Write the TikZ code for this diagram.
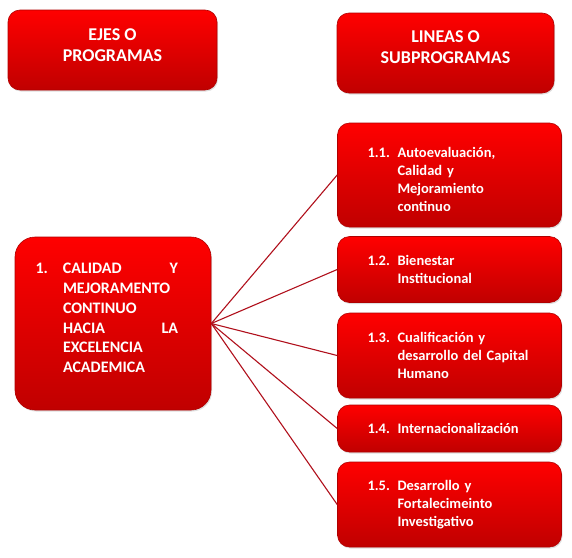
\documentclass[tikz,border=0pt]{standalone}
\usepackage{fontspec}
\setmainfont{Carlito}
\usetikzlibrary{shadows}
\definecolor{topred}{HTML}{FF0000}
\definecolor{botred}{HTML}{C00000}
\definecolor{edgered}{HTML}{B00000}
\definecolor{linered}{HTML}{B0101C}
\tikzset{
  redbox/.style={draw=edgered, line width=0.6pt, top color=topred, bottom color=botred,
    rounded corners=12pt, text=white, font=\bfseries,
    drop shadow={opacity=0.25, shadow xshift=1pt, shadow yshift=-1.5pt}},
  headbox/.style={redbox, font=\fontsize{18}{21}\selectfont\bfseries, align=center},
  subbox/.style={redbox, minimum width=224pt, text width=164pt, inner xsep=30pt,
    align=left, font=\fontsize{14.5}{18}\selectfont\bfseries},
  conn/.style={draw=linered, line width=1.1pt}
}
\newcommand{\lbl}[2]{\makebox[30pt][l]{#1}\parbox[t]{134pt}{\raggedright #2}}
\newcommand{\shiftv}[2]{\raisebox{#1}[\height][\depth]{#2}}
\begin{document}
\begin{tikzpicture}[x=1pt,y=-1pt]
\useasboundingbox (0,0) rectangle (572,557);
% headers
\node[headbox, minimum width=209pt, minimum height=80pt] (h1) at (112.5,50)
  {\shiftv{3pt}{\begin{tabular}{@{}c@{}}EJES O\\PROGRAMAS\end{tabular}}};
\node[headbox, minimum width=217pt, minimum height=80pt] (h2) at (445.5,53)
  {\shiftv{4pt}{\begin{tabular}{@{}c@{}}LINEAS O\\SUBPROGRAMAS\end{tabular}}};
% main box
\node[redbox, rounded corners=20pt, minimum width=196pt, minimum height=173pt,
  text width=155pt, inner xsep=0pt, align=left,
  font=\fontsize{16}{19.8}\selectfont\bfseries] (m) at (113,323.5)
  {\shiftv{5.5pt}{\makebox[27.5pt][l]{1.}\parbox[t]{115pt}{%
    \hbox to 115pt{CALIDAD\hfill Y}\par
    \hbox{MEJORAMENTO}\par
    \hbox{CONTINUO}\par
    \hbox to 115pt{HACIA\hfill LA}\par
    \hbox{EXCELENCIA}\par
    \hbox{ACADEMICA}}}};
% sub boxes
\node[subbox, minimum height=104pt] (s1) at (449.5,175)
  {\shiftv{-4pt}{\lbl{1.1.}{Autoevaluación,\\Calidad y\\Mejoramiento\\continuo}}};
\node[subbox, minimum height=66pt] (s2) at (449.5,269.5)
  {\lbl{1.2.}{Bienestar\\Institucional}};
\node[subbox, minimum height=85pt] (s3) at (449.5,355.5)
  {\lbl{1.3.}{Cualificación y\\desarrollo del Capital\\Humano}};
\node[subbox, minimum height=47pt] (s4) at (449.5,428.5)
  {\lbl{1.4.}{Internacionalización}};
\node[subbox, minimum height=85pt] (s5) at (449.5,504.5)
  {\lbl{1.5.}{Desarrollo y\\Fortalecimeinto\\Investigativo}};
% connectors
\foreach \s in {s1,s2,s3,s4,s5}{\draw[conn] (m.east) -- (\s.west);}
\end{tikzpicture}
\end{document}
